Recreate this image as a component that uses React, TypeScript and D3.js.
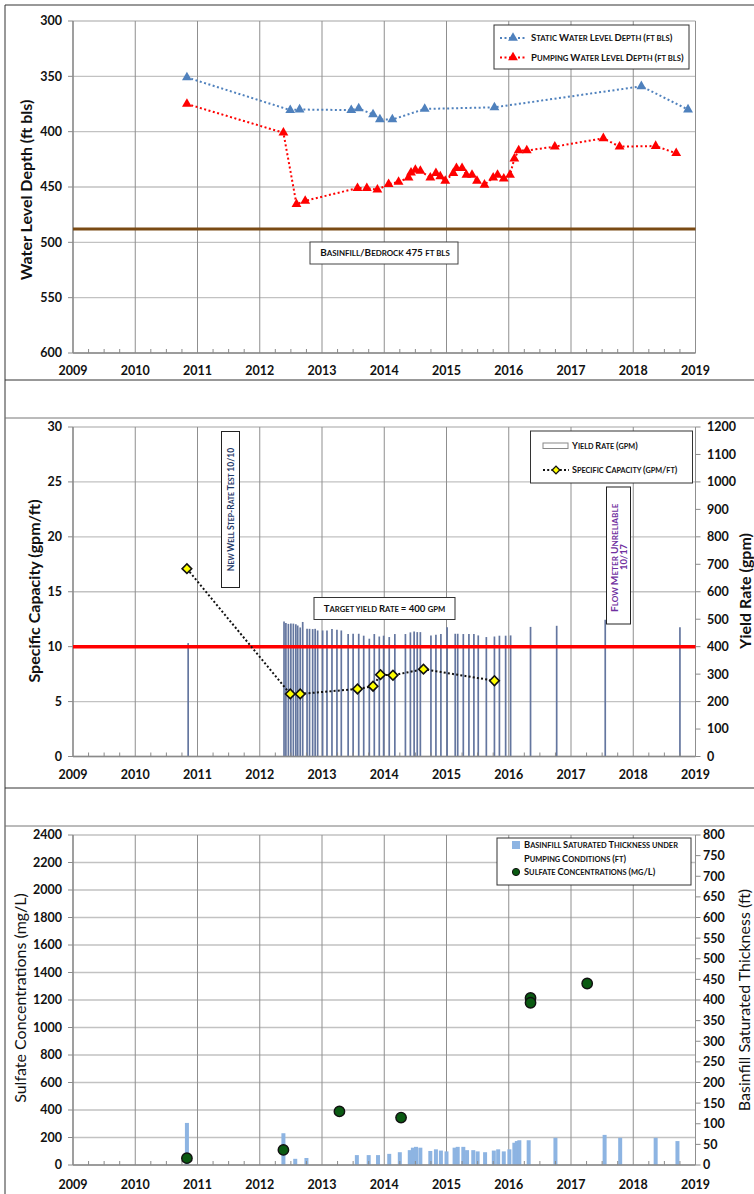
import * as d3 from "d3";

const FONT = "Lato, 'Open Sans', sans-serif";

// ---- panel 1: water levels (ft bls) ----
const staticYears = [2010.83, 2012.49, 2012.64, 2013.47, 2013.59, 2013.82, 2013.93, 2014.13, 2014.65, 2015.77, 2018.13, 2018.88];
const staticDepth = [351, 380.5, 380, 380.5, 379, 384.5, 389, 389, 379.5, 378, 359, 380];

const pumpingYears = [
  2010.83, 2012.38, 2012.59, 2012.73, 2013.57, 2013.72, 2013.89, 2014.07, 2014.23, 2014.39, 2014.43, 2014.5,
  2014.58, 2014.74, 2014.83, 2014.9, 2014.98, 2015.11, 2015.16, 2015.25, 2015.32, 2015.41, 2015.49, 2015.61,
  2015.75, 2015.82, 2015.92, 2016.02, 2016.09, 2016.16, 2016.29, 2016.74, 2017.52, 2017.78, 2018.36, 2018.69,
];
const pumpingDepth = [
  375, 401, 465.5, 462.5, 451, 451, 452.5, 447.5, 445.5, 441.5, 437, 434.5,
  435.5, 441.5, 437.5, 440.5, 444.5, 437.5, 433, 433, 439, 439, 444.5, 448,
  441.5, 439, 442.5, 439, 424.5, 417, 417, 413.5, 406, 413.5, 413, 419.5,
];
const bedrockDepth = 488;

// ---- panel 2: yield rate (gpm) + specific capacity (gpm/ft) ----
const yieldYears = [
  2010.85, 2012.39, 2012.42, 2012.46, 2012.5, 2012.54, 2012.58, 2012.61, 2012.65, 2012.69, 2012.76, 2012.8,
  2012.85, 2012.89, 2012.93, 2013.01, 2013.08, 2013.16, 2013.24, 2013.31, 2013.42, 2013.5, 2013.59, 2013.67,
  2013.76, 2013.84, 2013.92, 2013.99, 2014.08, 2014.17, 2014.34, 2014.42, 2014.48, 2014.53, 2014.58, 2014.75,
  2014.83, 2014.91, 2015.01, 2015.14, 2015.18, 2015.27, 2015.36, 2015.44, 2015.51, 2015.64, 2015.77, 2015.85,
  2015.95, 2016.03, 2016.35, 2016.77, 2017.55, 2018.75,
];
const yieldGpm = [
  413, 492, 486, 483, 484, 484, 482, 477, 470, 490, 465, 465,
  464, 465, 459, 459, 459, 464, 462, 459, 446, 447, 447, 440,
  429, 446, 437, 440, 435, 446, 446, 452, 455, 453, 453, 441,
  443, 446, 471, 447, 447, 446, 446, 446, 441, 435, 437, 440,
  440, 441, 472, 476, 498, 471,
];
const capYears = [2010.83, 2012.49, 2012.65, 2013.57, 2013.82, 2013.94, 2014.14, 2014.63, 2015.77];
const capValues = [17.1, 5.7, 5.7, 6.15, 6.4, 7.45, 7.4, 7.95, 6.9];
const targetYield = 400;

// ---- panel 3: saturated thickness (ft) + sulfate (mg/L) ----
const thickYears = [
  2010.83, 2012.38, 2012.57, 2012.75, 2013.56, 2013.75, 2013.9, 2014.08, 2014.25, 2014.41, 2014.46, 2014.51,
  2014.58, 2014.74, 2014.83, 2014.91, 2015.0, 2015.13, 2015.18, 2015.27, 2015.33, 2015.43, 2015.5, 2015.62,
  2015.76, 2015.83, 2015.92, 2016.01, 2016.09, 2016.13, 2016.17, 2016.32, 2016.75, 2017.54, 2017.79, 2018.36,
  2018.71,
];
const thickFt = [
  102, 77, 15, 17, 24, 24, 24, 27, 31, 36, 42, 44,
  42, 34, 38, 35, 33, 42, 44, 44, 36, 36, 33, 31,
  35, 38, 33, 38, 54, 58, 60, 60, 66, 73, 66, 66,
  58,
];
const sulfYears = [2010.83, 2012.38, 2013.28, 2014.27, 2016.35, 2016.35, 2017.26];
const sulfValues = [50, 110, 390, 345, 1215, 1180, 1320];

// ---- tick labels ----
const yearTicks = ["2009", "2010", "2011", "2012", "2013", "2014", "2015", "2016", "2017", "2018", "2019"];
const depthTicks = [300, 350, 400, 450, 500, 550, 600];
const capTicks = [0, 5, 10, 15, 20, 25, 30];
const yieldTicks = [0, 100, 200, 300, 400, 500, 600, 700, 800, 900, 1000, 1100, 1200];
const sulfTicks = [0, 200, 400, 600, 800, 1000, 1200, 1400, 1600, 1800, 2000, 2200, 2400];
const thickTicks = [0, 50, 100, 150, 200, 250, 300, 350, 400, 450, 500, 550, 600, 650, 700, 750, 800];

const x = d3.scaleLinear().domain([2009, 2019]).range([73, 695.5]);
const y1 = d3.scaleLinear().domain([300, 600]).range([21, 353]);
const y2 = d3.scaleLinear().domain([0, 30]).range([756.5, 427]);
const y2r = d3.scaleLinear().domain([0, 1200]).range([756.5, 427]);
const y3 = d3.scaleLinear().domain([0, 2400]).range([1165, 835]);
const y3r = d3.scaleLinear().domain([0, 800]).range([1165, 835]);

const minorYears = d3.range(2009, 2019, 0.25).filter((v) => v % 1 !== 0);
const triangle = d3.symbol(d3.symbolTriangle, 42)();
const square = d3.symbol(d3.symbolSquare, 46)();

function Grid({ y, ticks }) {
  const [b, t] = y.range();
  return (
    <g>
      {ticks.map((v) => (
        <line key={"h" + v} x1={x(2009)} x2={x(2019)} y1={y(v)} y2={y(v)} stroke="#c2c2c2" strokeWidth={1.3} />
      ))}
      {yearTicks.map((v) => (
        <line key={"v" + v} x1={x(+v)} x2={x(+v)} y1={t} y2={b} stroke="#8f8f8f" strokeWidth={1} />
      ))}
    </g>
  );
}

function XAxis({ y0, labelY }) {
  return (
    <g>
      <line x1={x(2009)} x2={x(2019)} y1={y0} y2={y0} stroke="#8a8a8a" strokeWidth={1.3} />
      {minorYears.map((v) => (
        <line key={v} x1={x(v)} x2={x(v)} y1={y0} y2={y0 - 4} stroke="#8a8a8a" />
      ))}
      {yearTicks.map((v) => (
        <text key={v} x={x(+v)} y={labelY} textAnchor="middle" fontFamily={FONT} fontWeight="bold" fontSize={12.5} fill="#111">
          {v}
        </text>
      ))}
    </g>
  );
}

function LeftAxis({ y, ticks }) {
  const [b, t] = y.range();
  return (
    <g>
      <line x1={x(2009)} x2={x(2009)} y1={t} y2={b} stroke="#8a8a8a" strokeWidth={1.3} />
      {ticks.map((v) => (
        <g key={v}>
          <line x1={x(2009) - 5} x2={x(2009)} y1={y(v)} y2={y(v)} stroke="#8a8a8a" />
          <text x={62} y={y(v)} dy="0.35em" textAnchor="end" fontFamily={FONT} fontWeight="bold" fontSize={12.5} fill="#111">
            {v}
          </text>
        </g>
      ))}
    </g>
  );
}

function RightAxis({ y, ticks, lx }) {
  return (
    <g>
      {ticks.map((v) => (
        <g key={v}>
          <line x1={x(2019)} x2={x(2019) + 5} y1={y(v)} y2={y(v)} stroke="#8a8a8a" />
          <text x={lx} y={y(v)} dy="0.35em" textAnchor="start" fontFamily={FONT} fontWeight="bold" fontSize={12.5} fill="#111">
            {v}
          </text>
        </g>
      ))}
    </g>
  );
}

function VTitle({ cx, cy, text, bold = true }) {
  return (
    <text
      transform={`translate(${cx},${cy}) rotate(-90)`}
      textAnchor="middle"
      dy="0.35em"
      fontFamily={FONT}
      fontWeight={bold ? "bold" : "normal"}
      fontSize={16}
      fill="#111"
    >
      {text}
    </text>
  );
}

// small caps: lowercase letters shown as smaller capitals
function SC({ text, size, fill = "#111", ...rest }) {
  const runs = [];
  for (const ch of text) {
    const small = /[a-z]/.test(ch);
    const last = runs[runs.length - 1];
    if (last && (last.small === small || ch === " ")) last.s += ch;
    else runs.push({ small, s: ch });
  }
  return (
    <text dy="0.35em" fontFamily={FONT} fontWeight="bold" fontSize={size} fill={fill} {...rest}>
      {runs.map((r, i) => (
        <tspan key={i} fontSize={r.small ? size * 0.8 : size}>
          {r.small ? r.s.toUpperCase() : r.s}
        </tspan>
      ))}
    </text>
  );
}

function App() {
  const lineStatic = d3.line().x((d) => x(d[0])).y((d) => y1(d[1]))(staticYears.map((v, i) => [v, staticDepth[i]]));
  const linePump = d3.line().x((d) => x(d[0])).y((d) => y1(d[1]))(pumpingYears.map((v, i) => [v, pumpingDepth[i]]));
  const lineCap = d3.line().x((d) => x(d[0])).y((d) => y2(d[1]))(capYears.map((v, i) => [v, capValues[i]]));

  return (
    <svg width={754} height={1194} style={{ position: "absolute", left: 0, top: 0, background: "#fff" }}>
      <defs>
        <clipPath id="flowClip">
          <rect x={606.5} y={488} width={24} height={136} />
        </clipPath>
      </defs>
      {/* document frame */}
      <g stroke="#333" strokeWidth={1} fill="none">
        <line x1={5} x2={5} y1={5} y2={1194} />
        <line x1={5} x2={754} y1={5} y2={5} />
        <line x1={5} x2={754} y1={380} y2={380} />
        <line x1={5} x2={754} y1={418} y2={418} stroke="#777" />
        <line x1={5} x2={754} y1={788} y2={788} />
        <line x1={5} x2={754} y1={826} y2={826} stroke="#777" />
      </g>

      {/* ---------- panel 1 ---------- */}
      <Grid y={y1} ticks={depthTicks} />
      <LeftAxis y={y1} ticks={depthTicks} />
      <XAxis y0={y1(600)} labelY={375} />
      <VTitle cx={26} cy={190} text="Water Level Depth (ft bls)" />
      <line x1={x(2009)} x2={x(2019)} y1={y1(bedrockDepth)} y2={y1(bedrockDepth)} stroke="#7a4a14" strokeWidth={3} />
      <path d={lineStatic} fill="none" stroke="#4f81bd" strokeWidth={2} strokeDasharray="2,2.5" />
      <path d={linePump} fill="none" stroke="#ff0000" strokeWidth={2} strokeDasharray="2,2.5" />
      {staticYears.map((v, i) => (
        <path key={"s" + i} d={triangle} transform={`translate(${x(v)},${y1(staticDepth[i])})`} fill="#4f81bd" />
      ))}
      {pumpingYears.map((v, i) => (
        <path key={"p" + i} d={triangle} transform={`translate(${x(v)},${y1(pumpingDepth[i])})`} fill="#ff0000" />
      ))}
      <rect x={310} y={242} width={148} height={22} fill="#fff" stroke="#444" />
      <SC x={385} y={253} textAnchor="middle" size={9.9} text="Basinfill/Bedrock 475 ft bls" />
      <rect x={494} y={25} width={195} height={44} fill="#fff" stroke="#333" />
      <line x1={500} x2={526} y1={38} y2={38} stroke="#4f81bd" strokeWidth={2} strokeDasharray="2,2.5" />
      <path d={triangle} transform="translate(513,38)" fill="#4f81bd" />
      <SC x={531} y={38} size={9.6} text="Static Water Level Depth (ft bls)" />
      <line x1={500} x2={526} y1={57.5} y2={57.5} stroke="#ff0000" strokeWidth={2} strokeDasharray="2,2.5" />
      <path d={triangle} transform="translate(513,57.5)" fill="#ff0000" />
      <SC x={531} y={57.5} size={9.6} text="Pumping Water Level Depth (ft bls)" />

      {/* ---------- panel 2 ---------- */}
      <Grid y={y2} ticks={capTicks} />
      {yieldYears.map((v, i) => (
        <line key={"y" + i} x1={x(v)} x2={x(v)} y1={y2r(0)} y2={y2r(yieldGpm[i])} stroke="#64769f" strokeWidth={1.7} />
      ))}
      <LeftAxis y={y2} ticks={capTicks} />
      <RightAxis y={y2r} ticks={yieldTicks} lx={707} />
      <XAxis y0={y2(0)} labelY={779} />
      <VTitle cx={34} cy={591} text="Specific Capacity (gpm/ft)" />
      <VTitle cx={745} cy={591} text="Yield Rate (gpm)" />
      <line x1={x(2009)} x2={x(2019)} y1={y2r(targetYield)} y2={y2r(targetYield)} stroke="#ff0000" strokeWidth={3.5} />
      <path d={lineCap} fill="none" stroke="#111" strokeWidth={2} strokeDasharray="2,2.2" />
      {capYears.map((v, i) => (
        <path
          key={"c" + i}
          d={square}
          transform={`translate(${x(v)},${y2(capValues[i])}) rotate(45)`}
          fill="#ffff00"
          stroke="#111"
          strokeWidth={1.6}
        />
      ))}
      <rect x={221.5} y={431.5} width={18} height={156} fill="#fff" stroke="#222" />
      <SC transform="translate(231,509.5) rotate(-90)" textAnchor="middle" size={8.6} fill="#1f3a68" text="New Well Step-Rate Test  10/10" />
      <rect x={314} y={597.5} width={141} height={22} fill="#fff" stroke="#333" />
      <SC x={384.5} y={608.5} textAnchor="middle" size={9.6} text="Target yield Rate = 400 gpm" />
      <rect x={606.5} y={487} width={24} height={137} fill="#fff" stroke="#222" />
      <g clipPath="url(#flowClip)">
        <SC transform="translate(614.5,612) rotate(-90)" size={10.2} fill="#7030a0" text="Flow Meter Unreliable" />
      </g>
      <SC transform="translate(624,557) rotate(-90)" textAnchor="middle" size={9.4} fill="#7030a0" text="10/17" />
      <rect x={530.5} y={431} width={162} height={52} fill="#fff" stroke="#333" />
      <rect x={543} y={443} width={25} height={5.5} fill="#fff" stroke="#888" />
      <SC x={572} y={446} size={9.1} text="Yield Rate (gpm)" />
      <line x1={543} x2={569} y1={470} y2={470} stroke="#111" strokeWidth={2} strokeDasharray="2,2.2" />
      <path d={square} transform="translate(556,470) rotate(45) scale(0.8)" fill="#ffff00" stroke="#111" strokeWidth={1.6} />
      <SC x={572} y={470} size={9.1} text="Specific Capacity (gpm/ft)" />

      {/* ---------- panel 3 ---------- */}
      <Grid y={y3} ticks={sulfTicks} />
      {thickYears.map((v, i) => (
        <rect key={"t" + i} x={x(v) - 2} width={4} y={y3r(thickFt[i])} height={y3r(0) - y3r(thickFt[i])} fill="#8db4e2" />
      ))}
      <LeftAxis y={y3} ticks={sulfTicks} />
      <RightAxis y={y3r} ticks={thickTicks} lx={703} />
      <XAxis y0={y3(0)} labelY={1189} />
      <VTitle cx={20} cy={998} text="Sulfate Concentrations (mg/L)" bold={false} />
      <VTitle cx={744} cy={1000} text="Basinfill Saturated Thickness (ft)" bold={false} />
      {sulfYears.map((v, i) => (
        <circle key={"so" + i} cx={x(v)} cy={y3(sulfValues[i])} r={5.2} fill="#0a5a12" stroke="#111" strokeWidth={1.4} />
      ))}
      <rect x={497} y={838} width={194} height={47} fill="#fff" stroke="#333" />
      <rect x={512} y={841} width={8} height={8} fill="#8db4e2" />
      <SC x={524} y={845} size={9.3} text="Basinfill Saturated Thickness under" />
      <SC x={524} y={859} size={9.3} text="Pumping Conditions (ft)" />
      <circle cx={516} cy={872} r={3.6} fill="#0a5a12" stroke="#111" />
      <SC x={524} y={872} size={9.3} text="Sulfate Concentrations (mg/L)" />
    </svg>
  );
}

export default App;
